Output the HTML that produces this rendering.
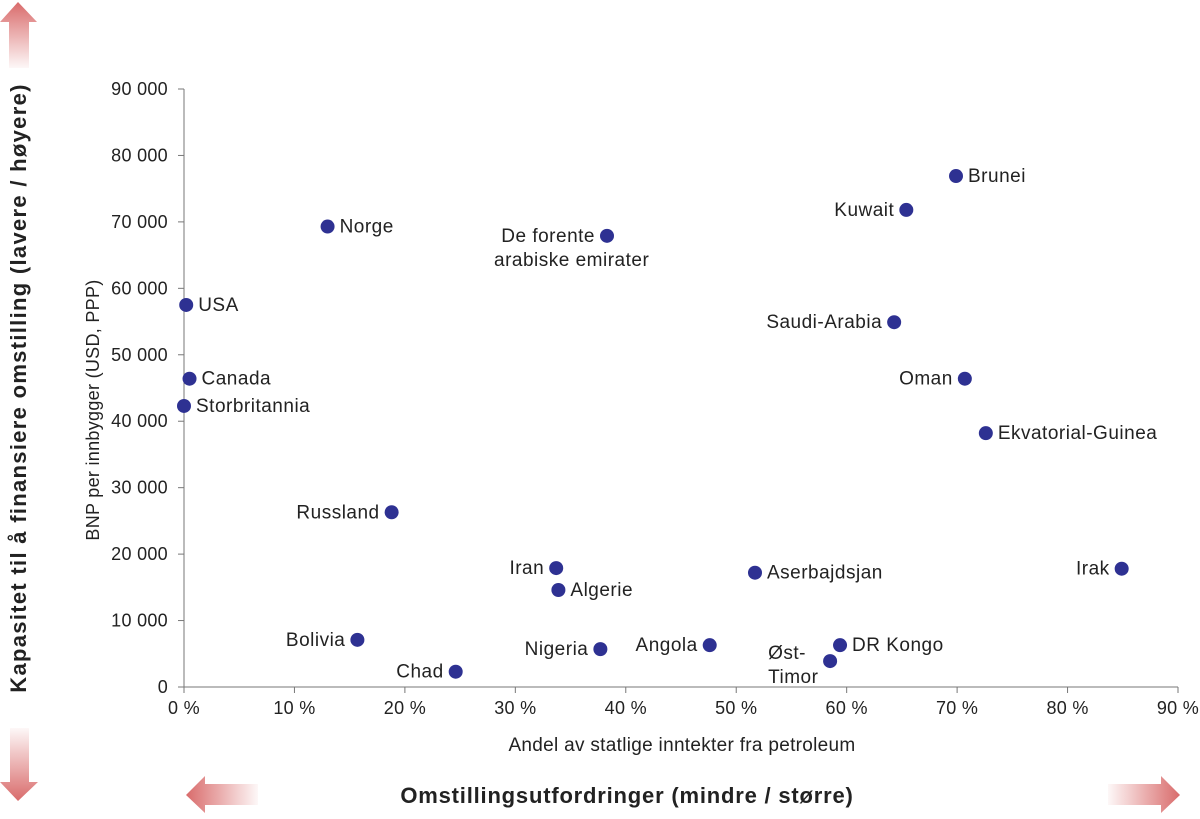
<!DOCTYPE html>
<html><head><meta charset="utf-8"><style>
body{margin:0;background:#fff;font-family:"Liberation Sans",sans-serif;}
svg text{font-family:"Liberation Sans",sans-serif;fill:#222;}
</style></head><body>
<svg id="chart" width="1200" height="814" xmlns="http://www.w3.org/2000/svg">
<defs>
<linearGradient id="gUp" x1="0" y1="1" x2="0" y2="0"><stop offset="0" stop-color="#d96b6b" stop-opacity="0.05"/><stop offset="1" stop-color="#d96b6b"/></linearGradient>
<linearGradient id="gDown" x1="0" y1="0" x2="0" y2="1"><stop offset="0" stop-color="#d96b6b" stop-opacity="0.05"/><stop offset="1" stop-color="#d96b6b"/></linearGradient>
<linearGradient id="gLeft" x1="1" y1="0" x2="0" y2="0"><stop offset="0" stop-color="#d96b6b" stop-opacity="0.05"/><stop offset="1" stop-color="#d96b6b"/></linearGradient>
<linearGradient id="gRight" x1="0" y1="0" x2="1" y2="0"><stop offset="0" stop-color="#d96b6b" stop-opacity="0.05"/><stop offset="1" stop-color="#d96b6b"/></linearGradient>
</defs>
<polygon fill="url(#gUp)" points="18,2 37,22 29,22 29,68 9,68 9,22 0,22"/>
<polygon fill="url(#gDown)" points="10,728 29,728 29,782 38,782 18,801 0,782 10,782"/>
<polygon fill="url(#gLeft)" points="186,795 205,776 205,784 258,784 258,805 205,805 205,813"/>
<polygon fill="url(#gRight)" points="1180,795 1161,776 1161,784 1108,784 1108,805 1161,805 1161,813"/>
<g id="axes"></g>
<g id="marks"></g>
<text x="682" y="751" text-anchor="middle" font-size="19" letter-spacing="0.3" fill="#333">Andel av statlige inntekter fra petroleum</text>
<text transform="translate(99,410) rotate(-90)" text-anchor="middle" font-size="18" letter-spacing="0.3" fill="#333">BNP per innbygger (USD, PPP)</text>
<text x="627" y="803" text-anchor="middle" font-size="22" font-weight="bold" letter-spacing="0.8">Omstillingsutfordringer (mindre / større)</text>
<text transform="translate(26,388) rotate(-90)" text-anchor="middle" font-size="22" font-weight="bold" letter-spacing="1.3">Kapasitet til å finansiere omstilling (lavere / høyere)</text>
</svg>
<script>
const countries=["Norge","USA","Canada","Storbritannia","Russland","De forente|arabiske emirater","Brunei","Kuwait","Saudi-Arabia","Oman","Ekvatorial-Guinea","Irak","Iran","Algerie","Aserbajdsjan","Bolivia","Chad","Nigeria","Angola","Øst-|Timor","DR Kongo"];
const petroShare=[13.0,0.2,0.5,0.0,18.8,38.3,69.9,65.4,64.3,70.7,72.6,84.9,33.7,33.9,51.7,15.7,24.6,37.7,47.6,58.5,59.4];
const gdpPerCapita=[69300,57500,46400,42300,26300,67900,76900,71800,54900,46400,38200,17800,17900,14600,17200,7100,2300,5700,6300,3900,6300];
const labelSide=["r","r","r","r","l","l","r","l","l","l","r","l","l","r","r","l","l","l","l","l","r"];
const xTicks=[0,10,20,30,40,50,60,70,80,90];
const yTicks=[0,10000,20000,30000,40000,50000,60000,70000,80000,90000];
const X0=184,X1=1178,Y0=687,Y1=89;
const xs=v=>X0+(v/90)*(X1-X0);
const ys=v=>Y0-(v/90000)*(Y0-Y1);
const NS="http://www.w3.org/2000/svg";
const ax=document.getElementById('axes'),mk=document.getElementById('marks');
function mkEl(t,a,p){const e=document.createElementNS(NS,t);for(const k in a)e.setAttribute(k,a[k]);p.appendChild(e);return e;}
let l=mkEl('line',{x1:X0,y1:Y1,x2:X0,y2:Y0,stroke:'#777'},ax);


l=mkEl('line',{x1:X0,y1:Y0,x2:X1,y2:Y0,stroke:'#777'},ax);


yTicks.forEach(v=>{
 const y=ys(v);
 mkEl('line',{x1:X0-6,y1:y,x2:X0,y2:y,stroke:'#777'},ax);
 const t=mkEl('text',{x:X0-16,y:y+6,'text-anchor':'end','font-size':18,'letter-spacing':0.3,fill:'#333'},ax);
 t.textContent=v===0?'0':(Math.floor(v/1000)+' 000');
 
 
});
xTicks.forEach(v=>{
 const x=xs(v);
 mkEl('line',{x1:x,y1:Y0,x2:x,y2:Y0+6,stroke:'#777'},ax);
 const t=mkEl('text',{x:x,y:Y0+27,'text-anchor':'middle','font-size':18,'letter-spacing':0.3,fill:'#333'},ax);
 t.textContent=v+' %';
 
 
});
countries.forEach((c,i)=>{
 const x=xs(petroShare[i]),y=ys(gdpPerCapita[i]);
 const d=mkEl('circle',{cx:x,cy:y,r:7,fill:'#2e3192'},mk);
 
 
 const lines=c.split('|');
 const right=labelSide[i]==='r';
 const t=mkEl('text',{x:right?x+12:x-12,y:y+6,'text-anchor':right?'start':'end','font-size':19,'letter-spacing':0.5},mk);
 
 
 if(lines.length===1){t.textContent=c;}
 else{
  if(c.startsWith('Øst')){
   t.setAttribute('y',y-2);t.setAttribute('text-anchor','start');
   lines.forEach((s,j)=>{const ts=mkEl('tspan',{x:x-62,dy:j?24:0},t);ts.textContent=s;});
  } else {
   t.setAttribute('y',y+6);t.setAttribute('text-anchor','end');
   lines.forEach((s,j)=>{const ts=mkEl('tspan',{x:j?x-113:x-12,dy:j?24:0,'text-anchor':j?'start':'end'},t);ts.textContent=s;});
  }
 }
});
</script>
</body></html>
